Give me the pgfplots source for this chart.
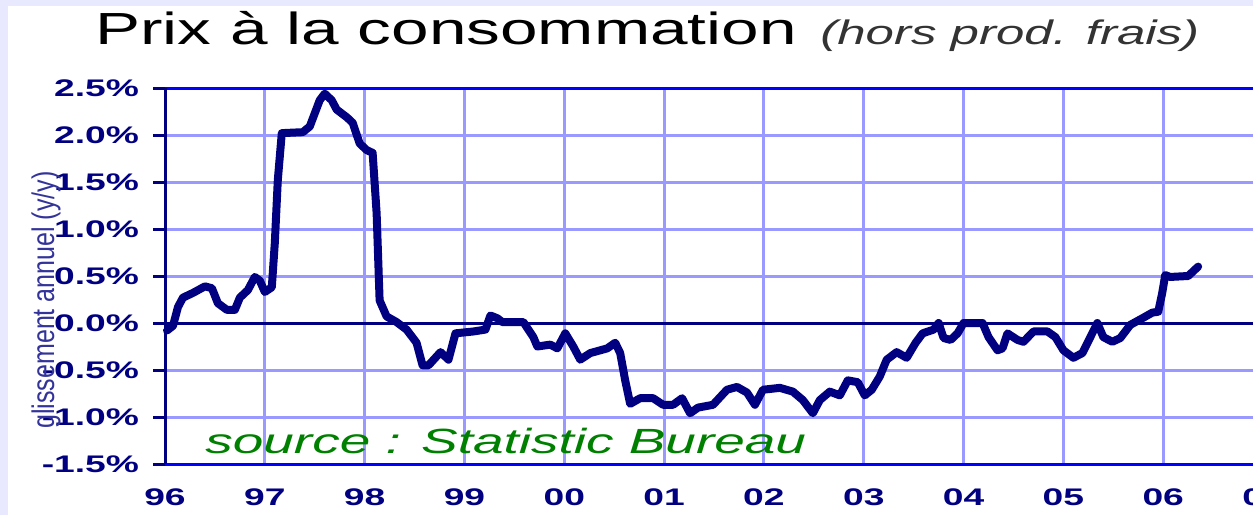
\documentclass[border=0pt]{standalone}
\usepackage{pgfplots}
\pgfplotsset{compat=1.18}
\usepackage{pgfplotstable}
\usepackage{fontspec}
\setmainfont{Liberation Sans}
\definecolor{navyc}{HTML}{000080}
\definecolor{gridc}{HTML}{9999FF}
\definecolor{topc}{HTML}{0000FF}
\definecolor{lav}{HTML}{E8E8FF}
\definecolor{srcgreen}{HTML}{008000}
\newcommand{\tl}[1]{\scalebox{1.55}[1]{#1}}
\pgfplotstableread{
x y
96.02 -0.08
96.08 -0.03
96.13 0.17
96.18 0.27
96.28 0.32
96.40 0.39
96.47 0.37
96.53 0.21
96.62 0.14
96.70 0.14
96.75 0.27
96.83 0.35
96.90 0.49
96.95 0.45
97.00 0.33
97.07 0.38
97.10 0.85
97.13 1.52
97.17 2.02
97.38 2.03
97.45 2.09
97.50 2.23
97.55 2.37
97.60 2.44
97.67 2.37
97.72 2.27
97.82 2.19
97.88 2.13
97.95 1.91
98.02 1.84
98.08 1.81
98.12 1.17
98.15 0.24
98.22 0.07
98.32 0.01
98.42 -0.07
98.52 -0.21
98.58 -0.45
98.64 -0.45
98.76 -0.31
98.84 -0.39
98.91 -0.11
99.09 -0.09
99.21 -0.07
99.26 0.08
99.33 0.05
99.38 0.01
99.59 0.01
99.69 -0.15
99.73 -0.25
99.86 -0.23
99.93 -0.27
100.01 -0.11
100.09 -0.25
100.16 -0.39
100.26 -0.32
100.43 -0.27
100.51 -0.21
100.56 -0.32
100.61 -0.61
100.66 -0.86
100.76 -0.80
100.89 -0.80
100.99 -0.87
101.09 -0.87
101.18 -0.80
101.26 -0.96
101.34 -0.90
101.49 -0.87
101.63 -0.71
101.73 -0.68
101.83 -0.74
101.91 -0.87
101.99 -0.71
102.16 -0.69
102.29 -0.73
102.39 -0.82
102.49 -0.96
102.56 -0.82
102.66 -0.73
102.76 -0.77
102.84 -0.61
102.94 -0.63
103.01 -0.77
103.08 -0.71
103.16 -0.57
103.23 -0.39
103.33 -0.31
103.43 -0.37
103.52 -0.21
103.59 -0.11
103.70 -0.07
103.75 0.00
103.80 -0.16
103.87 -0.18
103.94 -0.11
104.00 0.00
104.19 0.00
104.25 -0.15
104.34 -0.29
104.39 -0.27
104.44 -0.11
104.54 -0.18
104.60 -0.20
104.70 -0.09
104.84 -0.09
104.92 -0.15
105.00 -0.29
105.10 -0.37
105.19 -0.32
105.27 -0.15
105.34 0.00
105.40 -0.15
105.49 -0.20
105.57 -0.16
105.67 -0.02
105.79 0.05
105.89 0.11
105.95 0.12
105.99 0.32
106.02 0.51
106.07 0.49
106.25 0.50
106.35 0.60
}\cpidata
\begin{document}
\begin{tikzpicture}
\useasboundingbox (0,0) rectangle (626.5pt,257.5pt);
\fill[lav] (0,0) rectangle (626.5pt,257.5pt);
\fill[white] (4pt,0) rectangle (626.5pt,254.5pt);
\begin{axis}[
  at={(82.5pt,25.5pt)}, anchor=south west,
  scale only axis, width=559pt, height=188pt,
  xmin=96, xmax=107.2, ymin=-1.5, ymax=2.5,
  clip=false,
  axis line style={draw=none},
  grid=major,
  major grid style={color=gridc, line width=1.5pt},
  xtick={96,97,...,107},
  xticklabels={\tl{96},\tl{97},\tl{98},\tl{99},\tl{00},\tl{01},\tl{02},\tl{03},\tl{04},\tl{05},\tl{06},\tl{07}},
  ytick={-1.5,-1,-0.5,0,0.5,1,1.5,2,2.5},
  yticklabels={\tl{-1.5\%},\tl{-1.0\%},\tl{-0.5\%},\tl{0.0\%},\tl{0.5\%},\tl{1.0\%},\tl{1.5\%},\tl{2.0\%},\tl{2.5\%}},
  tick label style={font=\bfseries\fontsize{12pt}{14pt}\selectfont, text=navyc},
  xtick style={draw=none},
  ytick style={draw=navyc, line width=1.5pt},
  tick align=outside,
  major tick length=6pt,
  yticklabel style={anchor=east, xshift=-3.5pt},
  xticklabel style={anchor=north, yshift=-3pt},
]
\draw[topc, line width=1.5pt] (rel axis cs:0,1) -- (rel axis cs:1,1);
\draw[topc, line width=1.5pt] (rel axis cs:0,0) -- (rel axis cs:1,0);
\draw[navyc, line width=1.5pt] (rel axis cs:0,0) -- (rel axis cs:0,1);
\draw[navyc, line width=1.5pt] (axis cs:96,0) -- (axis cs:107.2,0);
\addplot[navyc, line width=4pt, line join=round, line cap=round, mark=none] table[x=x,y=y] {\cpidata};
\end{axis}
\node[anchor=base west, inner sep=0] at (47.5pt,235pt) {\scalebox{1.5}[1]{\fontsize{22.5pt}{26pt}\selectfont Prix à la consommation}};
\node[anchor=base west, inner sep=0, text=black!80] at (410pt,235pt) {\scalebox{1.5}[1]{\fontsize{17pt}{20pt}\selectfont\itshape (hors prod. frais)}};
\node[anchor=base west, inner sep=0, text=srcgreen] at (102.5pt,31pt) {\scalebox{1.57}[1]{\fontsize{17.5pt}{20pt}\selectfont\itshape source : Statistic Bureau}};
\node[rotate=90, inner sep=0, text=navyc!80] at (23pt,107.5pt) {\scalebox{1}[1.25]{\fontsize{12.5pt}{14pt}\selectfont glissement annuel (y/y)}};
\end{tikzpicture}
\end{document}
